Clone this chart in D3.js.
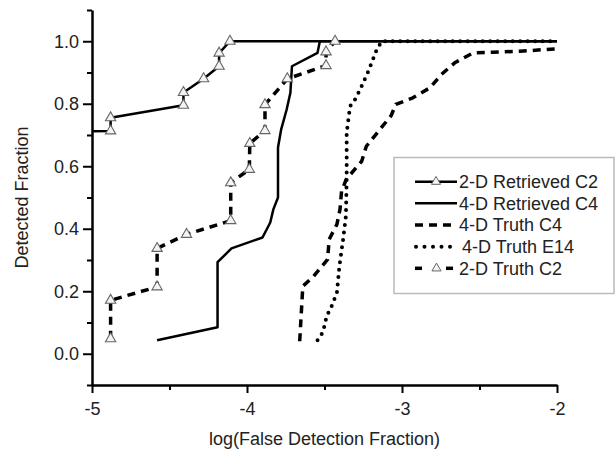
<!DOCTYPE html>
<html>
<head>
<meta charset="utf-8">
<script src="https://cdn.jsdelivr.net/npm/d3@7"></script>
<style>
  body { margin: 0; background: #fff; }
  svg { display: block; font-family: "Liberation Sans", Arial, sans-serif; }
  .axis text { font-size: 18px; fill: #222; }
  .axis path, .axis line { stroke: #000; }
</style>
</head>
<body>
<div class="plot"></div>
<script>
// --- data ---
let xTicks = [-5, -4, -3, -2];
let xMinor = [-4.5, -3.5, -2.5];
let yTicks = [0.0, 0.2, 0.4, 0.6, 0.8, 1.0];
let yMinor = [-0.1, 0.1, 0.3, 0.5, 0.7, 0.9, 1.1];

let seriesNames = ["2-D Retrieved C2", "4-D Retrieved C4", "4-D Truth C4", "4-D Truth E14", "2-D Truth C2"];

// 2-D Retrieved C2 (solid + triangles)
let ret2dX = [-5.3, -4.88, -4.88, -4.41, -4.41, -4.28, -4.18, -4.18, -4.11, -1.9];
let ret2dY = [0.71, 0.713, 0.755, 0.795, 0.836, 0.88, 0.92, 0.962, 1.0, 1.0];

// 4-D Retrieved C4 (solid)
let ret4dX = [-4.58, -4.19, -4.19, -4.10, -3.90, -3.85, -3.83, -3.80, -3.80, -3.78, -3.745, -3.72, -3.71, -3.545, -3.53, -1.9];
let ret4dY = [0.043, 0.085, 0.293, 0.337, 0.372, 0.42, 0.462, 0.50, 0.66, 0.717, 0.78, 0.835, 0.92, 0.963, 1.0, 1.0];

// 4-D Truth C4 (dashed)
let truth4dX = [-3.66, -3.64, -3.57, -3.48, -3.47, -3.42, -3.40, -3.39, -3.36, -3.26, -3.23, -3.16, -3.07, -3.04, -2.93, -2.82, -2.745, -2.66, -2.54, -2.41, -2.24, -2.0];
let truth4dY = [0.04, 0.216, 0.248, 0.302, 0.366, 0.414, 0.462, 0.52, 0.558, 0.616, 0.664, 0.707, 0.762, 0.798, 0.819, 0.851, 0.894, 0.931, 0.963, 0.965, 0.968, 0.976];

// 4-D Truth E14 (dotted)
let truthE14X = [-3.545, -3.51, -3.486, -3.454, -3.42, -3.404, -3.38, -3.362, -3.357, -3.357, -3.335, -3.303, -3.27, -3.217, -3.163, -3.13, -2.0];
let truthE14Y = [0.043, 0.069, 0.12, 0.152, 0.195, 0.28, 0.366, 0.44, 0.558, 0.707, 0.792, 0.814, 0.846, 0.904, 0.973, 1.0, 1.0];

// 2-D Truth C2 (dashed + triangles)
let truth2dX = [-4.88, -4.88, -4.58, -4.58, -4.39, -4.105, -4.105, -3.985, -3.982, -3.884, -3.884, -3.74, -3.49, -3.49, -3.432];
let truth2dY = [0.048, 0.171, 0.214, 0.337, 0.382, 0.426, 0.547, 0.59, 0.673, 0.714, 0.797, 0.88, 0.922, 0.966, 1.0];

let width = 616, height = 449;
let plotLeft = 92, plotRight = 557, plotTop = 10, plotBottom = 385;

let xScale = d3.scaleLinear().domain([-5, -2]).range([plotLeft, plotRight]);
let yScale = d3.scaleLinear().domain([-0.1, 1.1]).range([plotBottom, plotTop]);

let svg = d3.select(".plot")
    .append("svg")
    .attr("width", width)
    .attr("height", height);

svg.append("defs").append("clipPath")
    .attr("id", "plot-clip")
  .append("rect")
    .attr("x", plotLeft)
    .attr("y", plotTop - 6)
    .attr("width", plotRight - plotLeft)
    .attr("height", plotBottom - plotTop + 6);

function zip(xs, ys) {
    return xs.map((x, i) => ({x: x, y: ys[i]}));
}

let styles = [
    {name: seriesNames[0], data: zip(ret2dX, ret2dY), dash: null, cap: "butt", w: 2.5, marker: true},
    {name: seriesNames[1], data: zip(ret4dX, ret4dY), dash: null, cap: "butt", w: 2.5, marker: false},
    {name: seriesNames[2], data: zip(truth4dX, truth4dY), dash: "8,6", cap: "butt", w: 3.5, marker: false},
    {name: seriesNames[3], data: zip(truthE14X, truthE14Y), dash: "0,7.5", cap: "round", w: 4, marker: false},
    {name: seriesNames[4], data: zip(truth2dX, truth2dY), dash: "8,6", cap: "butt", w: 3.5, marker: true}
];

// --- axes ---
function renderXAxis() {
    svg.append("g")
        .attr("class", "axis x-minor")
        .attr("transform", "translate(0," + plotBottom + ")")
        .call(d3.axisBottom(xScale).tickValues(xMinor).tickSize(5).tickSizeOuter(0).tickFormat(""))
        .call(g => g.select(".domain").remove())
        .selectAll("line").attr("stroke-width", 2);

    let xAxis = svg.append("g")
        .attr("class", "axis x-axis")
        .attr("transform", "translate(0," + plotBottom + ")")
        .call(d3.axisBottom(xScale).tickValues(xTicks).tickSize(8).tickSizeOuter(0).tickPadding(6).tickFormat(d => String(d)));
    xAxis.select(".domain").attr("stroke-width", 2.5);
    xAxis.selectAll("line").attr("stroke-width", 2);
    xAxis.selectAll("text").attr("dy", "0.9em");
}

function renderYAxis() {
    svg.append("g")
        .attr("class", "axis y-minor")
        .attr("transform", "translate(" + plotLeft + ",0)")
        .call(d3.axisLeft(yScale).tickValues(yMinor).tickSize(5).tickSizeOuter(0).tickFormat(""))
        .call(g => g.select(".domain").remove())
        .selectAll("line").attr("stroke-width", 2);

    let yAxis = svg.append("g")
        .attr("class", "axis y-axis")
        .attr("transform", "translate(" + plotLeft + ",0)")
        .call(d3.axisLeft(yScale).tickValues(yTicks).tickSize(9).tickSizeOuter(0).tickPadding(4).tickFormat(d3.format(".1f")));
    yAxis.select(".domain").attr("stroke-width", 2.5);
    yAxis.selectAll("line").attr("stroke-width", 2);
}

renderXAxis();
renderYAxis();

svg.append("text")
    .attr("x", (plotLeft + plotRight) / 2)
    .attr("y", 445)
    .attr("text-anchor", "middle")
    .attr("font-size", 18)
    .attr("fill", "#222")
    .text("log(False Detection Fraction)");

svg.append("text")
    .attr("transform", "translate(28," + (plotTop + plotBottom) / 2 + ") rotate(-90)")
    .attr("text-anchor", "middle")
    .attr("font-size", 18)
    .attr("fill", "#222")
    .text("Detected Fraction");

// --- series ---
let line = d3.line().x(d => xScale(d.x)).y(d => yScale(d.y));
let triangle = d3.symbol().type(d3.symbolTriangle).size(46);

let plot = svg.append("g").attr("clip-path", "url(#plot-clip)");

styles.forEach(s => {
    plot.append("path")
        .datum(s.data)
        .attr("d", line)
        .attr("fill", "none")
        .attr("stroke", "#000")
        .attr("stroke-width", s.w)
        .attr("stroke-linecap", s.cap)
        .attr("stroke-linejoin", "round")
        .attr("stroke-dasharray", s.dash);
});

styles.filter(s => s.marker).forEach(s => {
    svg.append("g")
        .selectAll("path")
        .data(s.data.filter(d => d.x >= -5 && d.x <= -2))
        .join("path")
        .attr("transform", d => "translate(" + xScale(d.x) + "," + yScale(d.y) + ")")
        .attr("d", triangle)
        .attr("fill", "#f4f4f4")
        .attr("stroke", "#666")
        .attr("stroke-width", 1.1);
});

// --- legend ---
function renderLegend() {
    let lg = svg.append("g").attr("class", "legend");
    lg.append("rect")
        .attr("x", 394)
        .attr("y", 157.5)
        .attr("width", 220)
        .attr("height", 136)
        .attr("fill", "#fff")
        .attr("stroke", "#bbb")
        .attr("stroke-width", 1.5);

    styles.forEach((s, i) => {
        let y = 181.7 + i * 21.65;
        let x0 = 415, x1 = 457;
        if (i === 4) {
            lg.append("line").attr("x1", x0).attr("x2", x0 + 7).attr("y1", y).attr("y2", y)
                .attr("stroke", "#000").attr("stroke-width", s.w);
            lg.append("line").attr("x1", x1 - 11).attr("x2", x1 - 4).attr("y1", y).attr("y2", y)
                .attr("stroke", "#000").attr("stroke-width", s.w);
        } else if (i === 3) {
            lg.append("line").attr("x1", x0 + 1).attr("x2", x1).attr("y1", y).attr("y2", y)
                .attr("stroke", "#000").attr("stroke-width", s.w)
                .attr("stroke-linecap", "round").attr("stroke-dasharray", "0,8.5");
        } else {
            lg.append("line").attr("x1", x0).attr("x2", x1).attr("y1", y).attr("y2", y)
                .attr("stroke", "#000").attr("stroke-width", s.w)
                .attr("stroke-dasharray", s.dash);
        }
        if (s.marker) {
            lg.append("path")
                .attr("transform", "translate(" + (i === 4 ? 436.5 : 436) + "," + y + ")")
                .attr("d", d3.symbol().type(d3.symbolTriangle).size(36))
                .attr("fill", "#f4f4f4")
                .attr("stroke", "#666")
                .attr("stroke-width", 1);
        }
        lg.append("text")
            .attr("x", i === 3 ? 462 : 459)
            .attr("y", y)
            .attr("dy", "0.35em")
            .attr("font-size", 18)
            .attr("fill", "#222")
            .text(s.name);
    });
}

renderLegend();
</script>
</body>
</html>
